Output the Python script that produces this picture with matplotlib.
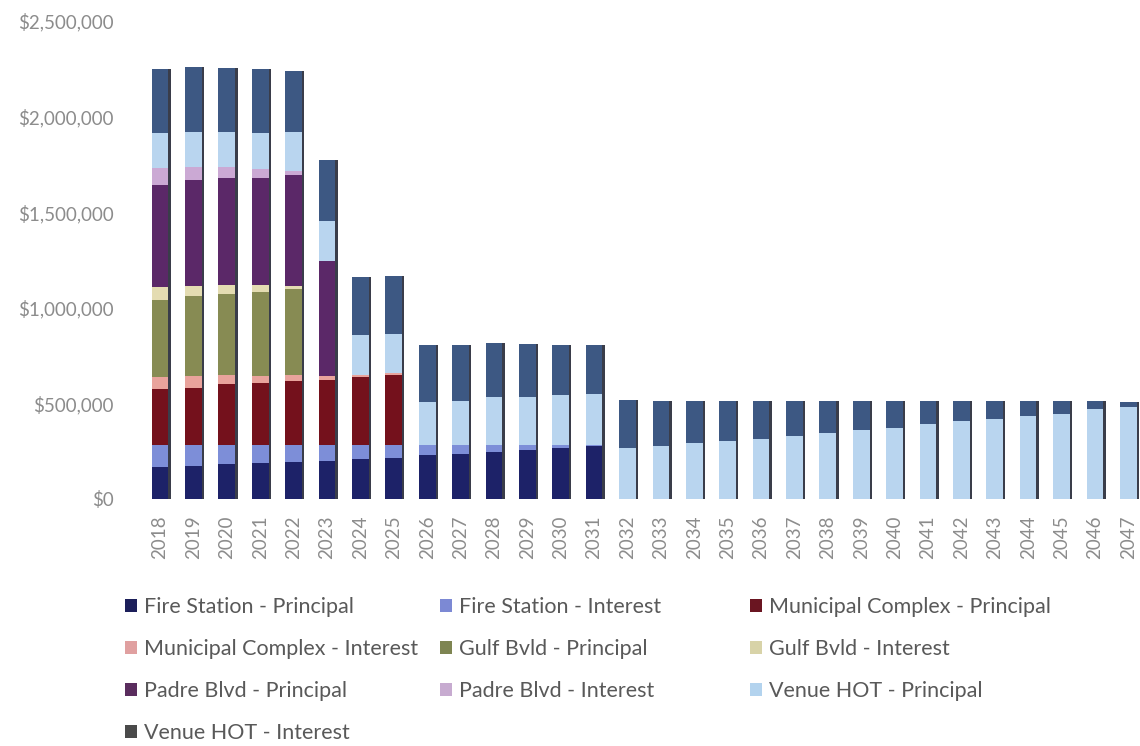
import numpy as np
import matplotlib.pyplot as plt
from matplotlib.patches import Patch
from matplotlib.ticker import FuncFormatter

plt.rcParams['font.family'] = ['Lato', 'DejaVu Sans']

years = [str(y) for y in range(2018, 2048)]
n = len(years)


def pad(vals):
    return np.array(vals + [0] * (n - len(vals)), dtype=float) * 1000


# debt service by year, in thousands of dollars
fire_principal = pad([167, 172, 182, 187, 193, 198, 208, 214, 229, 234, 245, 255, 266, 276])
fire_interest = pad([115, 109, 99, 94, 89, 83, 73, 68, 52, 47, 36, 26, 16, 5])
muni_principal = pad([292, 302, 318, 328, 333, 339, 359, 365])
muni_interest = pad([62, 62, 47, 36, 36, 21, 10, 10])
gulf_principal = pad([406, 417, 427, 437, 448])
gulf_interest = pad([68, 52, 47, 36, 16])
padre_principal = pad([531, 552, 557, 562, 578, 604])
padre_interest = pad([89, 73, 57, 47, 21])
venue_principal = pad([182, 182, 187, 187, 203, 208, 208, 208, 224, 234, 250, 250, 260, 266,
                       266, 276, 292, 302, 312, 328, 344, 359, 370, 391, 406, 417, 432, 443,
                       469, 479])
venue_interest = pad([339, 339, 333, 333, 323, 318, 302, 302, 302, 292, 286, 281, 266, 260,
                      250, 234, 219, 208, 198, 182, 167, 151, 141, 120, 104, 94, 78, 68,
                      42, 26])

series = [
    ('Fire Station - Principal', fire_principal, '#1d2268', '#1c1f5a'),
    ('Fire Station - Interest', fire_interest, '#7d8ed8', '#7c89d4'),
    ('Municipal Complex - Principal', muni_principal, '#74111c', '#6a1521'),
    ('Municipal Complex - Interest', muni_interest, '#e9a39c', '#e0a0a0'),
    ('Gulf Bvld - Principal', gulf_principal, '#878b53', '#7e8552'),
    ('Gulf Bvld - Interest', gulf_interest, '#e4dcb2', '#d8d3a8'),
    ('Padre Blvd - Principal', padre_principal, '#5b2868', '#5a2d5e'),
    ('Padre Blvd - Interest', padre_interest, '#cba9d4', '#c7abd0'),
    ('Venue HOT - Principal', venue_principal, '#b9d5ef', '#b3d3ee'),
    ('Venue HOT - Interest', venue_interest, '#3d5883', '#4a4a4a'),
]

fig = plt.figure(figsize=(11.4, 7.46), dpi=100)
ax = fig.add_axes([125 / 1140, (746 - 499) / 746, 1 - 125 / 1140, 478 / 746])

x = np.arange(n)
width = 0.5
totals = sum(s[1] for s in series)

# dark side face behind each column for the bevelled look
ax.bar(x + 0.07, totals, width, color='#3a3d4a', zorder=1)

bottom = np.zeros(n)
for label, vals, color, _ in series:
    ax.bar(x, vals, width, bottom=bottom, color=color, zorder=2, linewidth=0)
    bottom += vals

ax.set_xlim(-1.05, 29.35)
ax.set_ylim(0, 2500000)
ax.set_yticks(np.arange(0, 2500001, 500000))
ax.yaxis.set_major_formatter(FuncFormatter(lambda v, p: f'${v:,.0f}'))
ax.set_xticks(x)
ax.set_xticklabels(years, rotation=90)
ax.tick_params(axis='both', length=0, colors='#8c8c8c', labelsize=13.5)
ax.tick_params(axis='y', pad=8)
ax.tick_params(axis='x', pad=12)
for s in ax.spines.values():
    s.set_visible(False)

# legend: entries run across three fixed columns, row by row
col_x = [106, 421, 731]
for c, left in enumerate(col_x):
    idx = list(range(c, len(series), 3))
    handles = [Patch(facecolor=series[i][3], edgecolor='none') for i in idx]
    labels = [series[i][0] for i in idx]
    fig.legend(handles, labels, loc='upper left',
               bbox_to_anchor=(left / 1140, 1 - 578 / 746), frameon=False,
               fontsize=15.5, labelcolor='#595959', handlelength=0.55, handleheight=0.55,
               handletextpad=0.3, labelspacing=1.02)

fig.savefig('out.png', dpi=100, facecolor='white')
